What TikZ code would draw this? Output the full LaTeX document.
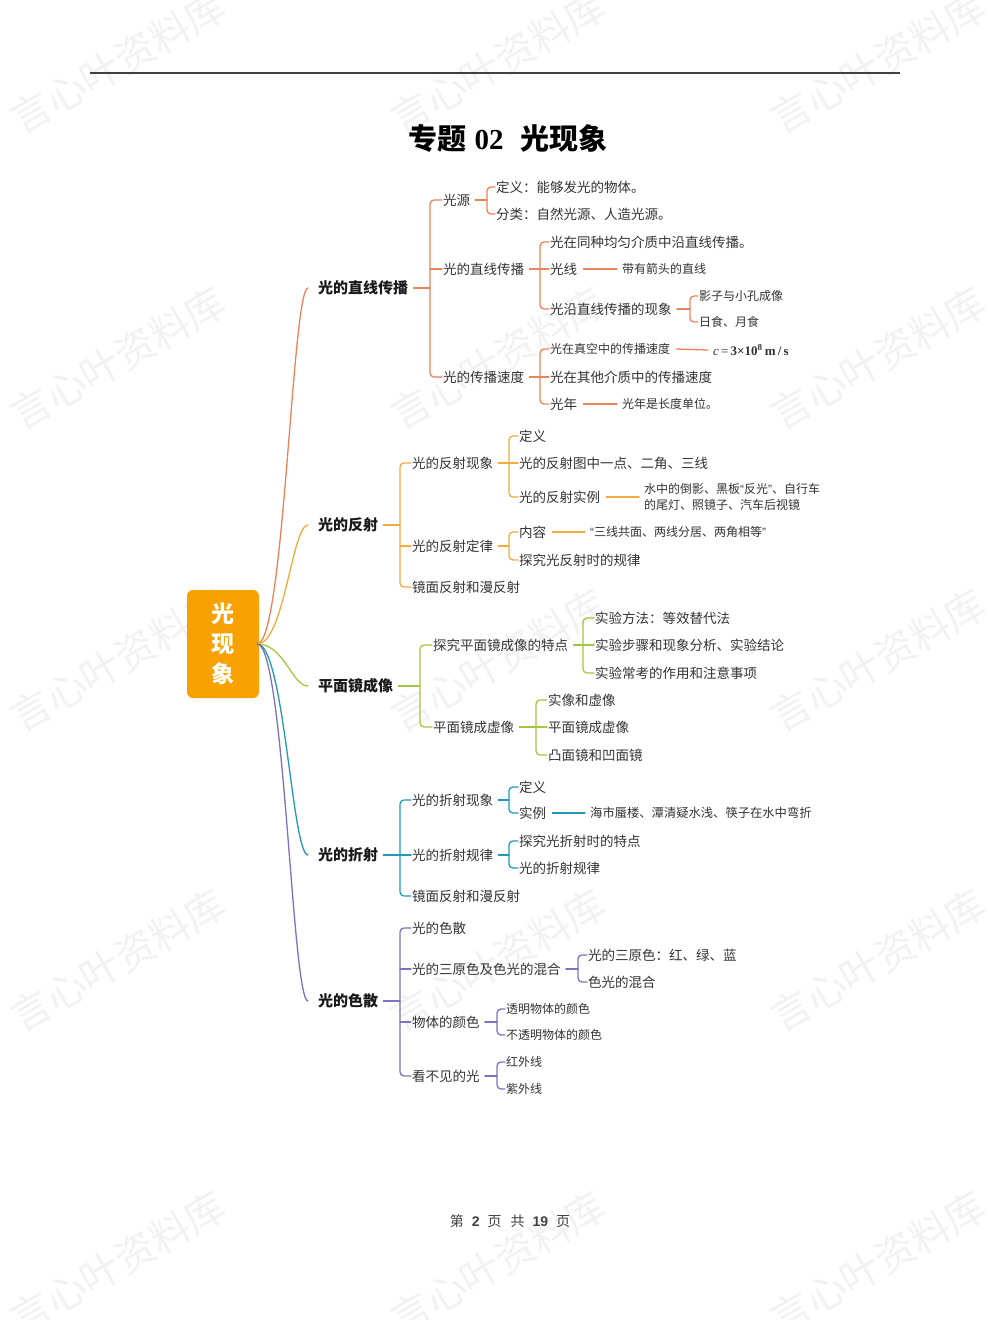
\documentclass[tikz,border=0pt]{standalone}
\usepackage{fontspec}
\setmainfont{Noto Sans CJK SC}
\newfontfamily\lat{Liberation Serif}
\newfontfamily\lats{Liberation Sans}
\definecolor{cA}{HTML}{E8835C}
\definecolor{cB}{HTML}{F2AA3C}
\definecolor{cC}{HTML}{A7C43E}
\definecolor{cD}{HTML}{1F9AB2}
\definecolor{cE}{HTML}{7D72BE}
\definecolor{rootc}{HTML}{F8A100}
\definecolor{txt}{HTML}{333333}
\tikzset{
  every node/.style={inner sep=1pt, anchor=west},
  Lone/.style={font=\fontsize{15}{18}\selectfont\bfseries, text=black!90},
  Ltwo/.style={font=\fontsize{13.5}{16}\selectfont, text=txt},
  Lthree/.style={font=\fontsize{12}{16}\selectfont, text=txt},
  ln/.style={line width=1.3pt, line cap=round},
  br/.style={ln, rounded corners=4pt},
  wm/.style={anchor=center, rotate=30, font=\fontsize{40}{40}\selectfont, text=black!5},
}
\newcommand\brk[5][9]{%
  \coordinate (#4-b) at ([xshift=-#1pt]#4.west);
  \draw[br,#2] (#4.west) -- (#4-b) -- (#4-b |- #5.west) -- (#5.west);
  \draw[ln,#2] ([xshift=4pt]#3.east) -- (#3.east -| #4-b);}
\newcommand\tck[3]{\draw[ln,#1] (#2-b |- #3.west) -- (#3.west);}
\newcommand\lnk[3]{\draw[ln,#1] ([xshift=5pt]#2.east) -- ([xshift=-4pt]#3.west);}
\begin{document}
\begin{tikzpicture}[x=1pt,y=-1pt]
\useasboundingbox (0,0) rectangle (990,1320);
\fill[white] (0,0) rectangle (990,1320);
% watermarks
\foreach \x in {118,498,878}{
  \foreach \y in {62,358,660,960,1262}{
    \node[wm] at (\x,\y) {言心叶资料库};
  }
}
% header rule and title
\coordinate (r1) at (90,73);
\coordinate (r2) at (900,73);
\draw[line width=1.6pt, black!75] (r1) -- (r2);
\node[anchor=center, font=\fontsize{29}{30}\selectfont\bfseries] (title) at (508,138) {专题\hspace{8pt}{\lat\bfseries 02}\hspace{17pt}光现象};
% root
\node[anchor=center, fill=rootc, rounded corners=6pt, minimum width=72pt, minimum height=108pt, text=white, align=center, font=\fontsize{23}{30}\selectfont\bfseries] (root) at (223,644) {光\\现\\象};
% level 1
\node[Lone] (A) at (317,288) {光的直线传播};
\node[Lone] (B) at (317,525) {光的反射};
\node[Lone] (C) at (317,686) {平面镜成像};
\node[Lone] (D) at (317,855) {光的折射};
\node[Lone] (E) at (317,1001) {光的色散};
\foreach \n/\c in {A/cA,B/cB,C/cC,D/cD,E/cE}{
  \draw[ln,\c] ([xshift=-2pt]root.east) .. controls +(27,0) and +(-16,0) .. ([xshift=-9pt]\n.west);
}
% ---------- A
\node[Ltwo] (a1) at (442,200) {光源};
\node[Ltwo] (a2) at (442,269) {光的直线传播};
\node[Ltwo] (a3) at (442,377) {光的传播速度};
\brk[12]{cA}{A}{a1}{a3}
\tck{cA}{a1}{a2}
\node[Ltwo] (a11) at (495,187) {定义：能够发光的物体。};
\node[Ltwo] (a12) at (495,214) {分类：自然光源、人造光源。};
\brk[8]{cA}{a1}{a11}{a12}
\node[Ltwo] (a21) at (549,242) {光在同种均匀介质中沿直线传播。};
\node[Ltwo] (a22) at (549,269) {光线};
\node[Ltwo] (a23) at (549,309) {光沿直线传播的现象};
\brk{cA}{a2}{a21}{a23}
\tck{cA}{a21}{a22}
\node[Lthree] (a22x) at (621,269) {带有箭头的直线};
\lnk{cA}{a22}{a22x}
\node[Lthree] (a231) at (698,296) {影子与小孔成像};
\node[Lthree] (a232) at (698,322) {日食、月食};
\brk[8]{cA}{a23}{a231}{a232}
\node[Lthree] (a31) at (549,349) {光在真空中的传播速度};
\node[Ltwo] (a32) at (549,377) {光在其他介质中的传播速度};
\node[Ltwo] (a33) at (549,404) {光年};
\brk{cA}{a3}{a31}{a33}
\tck{cA}{a31}{a32}
\node[font=\fontsize{13}{15}\selectfont\lat, text=txt] (a31x) at (712,350) {\textit{c}\,=\,\textbf{3×10\textsuperscript{8}\,m\,/\,s}};
\lnk{cA}{a31}{a31x}
\node[Lthree] (a33x) at (621,404) {光年是长度单位。};
\lnk{cA}{a33}{a33x}
% ---------- B
\node[Ltwo] (b1) at (411,463) {光的反射现象};
\node[Ltwo] (b2) at (411,546) {光的反射定律};
\node[Ltwo] (b3) at (411,587) {镜面反射和漫反射};
\brk[11]{cB}{B}{b1}{b3}
\tck{cB}{b1}{b2}
\node[Ltwo] (b11) at (518,436) {定义};
\node[Ltwo] (b12) at (518,463) {光的反射图中一点、二角、三线};
\node[Ltwo] (b13) at (518,497) {光的反射实例};
\brk{cB}{b1}{b11}{b13}
\tck{cB}{b11}{b12}
\node[Lthree, align=left] (b13x) at (643,497) {水中的倒影、黑板{\lats “}反光{\lats ”}、自行车\\的尾灯、照镜子、汽车后视镜};
\lnk{cB}{b13}{b13x}
\node[Ltwo] (b21) at (518,532) {内容};
\node[Ltwo] (b22) at (518,560) {探究光反射时的规律};
\brk{cB}{b2}{b21}{b22}
\node[Lthree] (b21x) at (589,532) {{\lats “}三线共面、两线分居、两角相等{\lats ”}};
\lnk{cB}{b21}{b21x}
% ---------- C
\node[Ltwo] (c1) at (432,645) {探究平面镜成像的特点};
\node[Ltwo] (c2) at (432,727) {平面镜成虚像};
\brk[12]{cC}{C}{c1}{c2}
\node[Ltwo] (c11) at (594,618) {实验方法：等效替代法};
\node[Ltwo] (c12) at (594,645) {实验步骤和现象分析、实验结论};
\node[Ltwo] (c13) at (594,673) {实验常考的作用和注意事项};
\brk[11]{cC}{c1}{c11}{c13}
\tck{cC}{c11}{c12}
\node[Ltwo] (c21) at (547,700) {实像和虚像};
\node[Ltwo] (c22) at (547,727) {平面镜成虚像};
\node[Ltwo] (c23) at (547,755) {凸面镜和凹面镜};
\brk[11]{cC}{c2}{c21}{c23}
\tck{cC}{c21}{c22}
% ---------- D
\node[Ltwo] (d1) at (411,800) {光的折射现象};
\node[Ltwo] (d2) at (411,855) {光的折射规律};
\node[Ltwo] (d3) at (411,896) {镜面反射和漫反射};
\brk[11]{cD}{D}{d1}{d3}
\tck{cD}{d1}{d2}
\node[Ltwo] (d11) at (518,787) {定义};
\node[Ltwo] (d12) at (518,813) {实例};
\brk{cD}{d1}{d11}{d12}
\node[font=\fontsize{12.3}{15}\selectfont, text=txt] (d12x) at (589,813) {海市蜃楼、潭清疑水浅、筷子在水中弯折};
\lnk{cD}{d12}{d12x}
\node[Ltwo] (d21) at (518,841) {探究光折射时的特点};
\node[Ltwo] (d22) at (518,868) {光的折射规律};
\brk{cD}{d2}{d21}{d22}
% ---------- E
\node[Ltwo] (e1) at (411,928) {光的色散};
\node[Ltwo] (e2) at (411,969) {光的三原色及色光的混合};
\node[Ltwo] (e3) at (411,1022) {物体的颜色};
\node[Ltwo] (e4) at (411,1076) {看不见的光};
\brk[11]{cE}{E}{e1}{e4}
\tck{cE}{e1}{e2}
\tck{cE}{e1}{e3}
\node[Ltwo] (e21) at (587,955) {光的三原色：红、绿、蓝};
\node[Ltwo] (e22) at (587,982) {色光的混合};
\brk{cE}{e2}{e21}{e22}
\node[Lthree] (e31) at (505,1009) {透明物体的颜色};
\node[Lthree] (e32) at (505,1035) {不透明物体的颜色};
\brk[8]{cE}{e3}{e31}{e32}
\node[Lthree] (e41) at (505,1062) {红外线};
\node[Lthree] (e42) at (505,1089) {紫外线};
\brk[8]{cE}{e4}{e41}{e42}
% footer
\node[anchor=center, font=\fontsize{14}{16}\selectfont, text=black!75] (foot) at (510,1221) {第\hspace{8pt}{\lats\bfseries 2}\hspace{8pt}页\hspace{9pt}共\hspace{8pt}{\lats\bfseries 19}\hspace{8pt}页};
\end{tikzpicture}
\end{document}
